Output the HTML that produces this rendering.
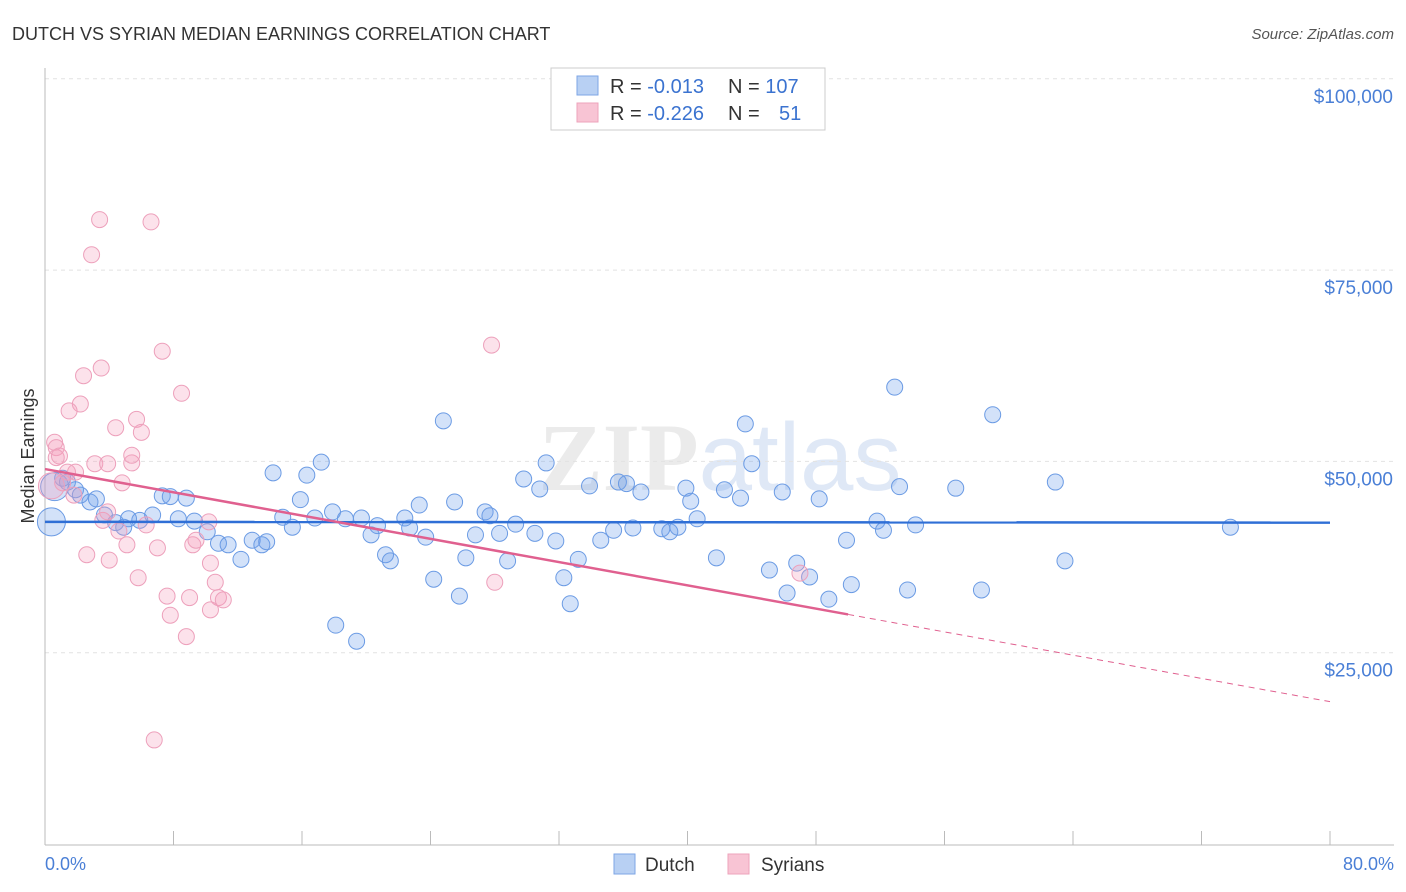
<!DOCTYPE html>
<html><head><meta charset="utf-8"><style>
body{margin:0;background:#fff;font-family:"Liberation Sans",sans-serif;}
svg{display:block}
</style></head><body>
<svg id="chart" width="1406" height="892">
<text x="12" y="40" font-size="18" fill="#333">DUTCH VS SYRIAN MEDIAN EARNINGS CORRELATION CHART</text>
<text x="1394" y="39" font-size="15" fill="#555" font-style="italic" text-anchor="end">Source: ZipAtlas.com</text>
<text x="720" y="490" font-size="96" fill="#ebebeb" text-anchor="middle" font-family="Liberation Serif" font-weight="bold">ZIP<tspan fill="#dfe8f6" font-family="Liberation Sans" font-weight="normal">atlas</tspan></text>
<g id="grid"></g>
<line x1="45" y1="68" x2="45" y2="845" stroke="#bbb"/>
<line x1="45" y1="845" x2="1394" y2="845" stroke="#bbb"/>
<g id="ticks"></g>
<text transform="translate(34,456) rotate(-90)" font-size="18" fill="#333" text-anchor="middle">Median Earnings</text>
<text x="45" y="870" font-size="18" fill="#4a7fd6">0.0%</text>
<text x="1394" y="870" font-size="18" fill="#4a7fd6" text-anchor="end">80.0%</text>
<g id="marks"></g>
<g>
<rect x="551" y="68" width="274" height="62" fill="#fff" stroke="#ccc"/>
<rect x="577" y="76" width="21" height="19" fill="#b8d0f3" stroke="#7ea6e6"/>
<rect x="577" y="103" width="21" height="19" fill="#f8c4d4" stroke="#eea3bb"/>
<text x="610" y="93" font-size="20" fill="#333">R = <tspan fill="#3b73d0">-0.013</tspan><tspan x="728">N = </tspan><tspan fill="#3b73d0">107</tspan></text>
<text x="610" y="120" font-size="20" fill="#333">R = <tspan fill="#3b73d0">-0.226</tspan><tspan x="728">N = </tspan><tspan fill="#3b73d0" x="779">51</tspan></text>
</g>
<g>
<rect x="614" y="854" width="21" height="20" fill="#b8d0f3" stroke="#7ea6e6"/>
<text x="645" y="871" font-size="19" fill="#333">Dutch</text></g>
<g>
<rect x="728" y="854" width="21" height="20" fill="#f8c4d4" stroke="#eea3bb"/>
<text x="761" y="871" font-size="19" fill="#333">Syrians</text></g>
</svg>
<script>
const dutchX=[7.3,7.8,8.8,8.3,9.3,10.1,10.8,11.4,12.2,12.9,13.5,13.8,14.2,14.8,15.4,15.9,16.3,16.8,17.2,17.9,18.1,18.7,19.4,19.7,20.3,20.7,21.2,21.5,22.4,22.7,23.3,23.7,24.2,24.8,25.5,25.8,26.2,26.8,27.4,27.7,28.3,28.8,29.3,29.8,30.5,30.8,31.2,31.8,32.3,32.7,33.2,33.9,34.6,35.4,35.7,36.2,36.6,37.1,38.4,38.9,39.4,39.9,40.2,40.6,41.8,42.3,43.3,43.6,44.0,45.1,45.9,46.2,46.8,47.6,48.2,48.8,49.9,50.2,51.8,52.2,52.9,53.2,53.7,54.2,56.7,58.3,59.0,62.9,63.5,73.8,0.4,0.6,1.1,1.4,1.9,2.2,2.8,3.2,3.7,4.4,4.9,5.9,6.7,5.2];
const dutchY=[45.5,45.4,45.2,42.5,42.2,40.8,39.3,39.1,37.2,39.7,39.1,39.5,48.5,42.7,41.4,45.0,48.2,42.6,49.9,43.4,28.6,42.5,26.5,42.6,40.4,41.6,37.8,37.0,42.6,41.3,44.3,40.1,34.6,55.3,44.7,32.4,37.4,40.4,43.4,42.9,40.6,37.0,41.8,47.7,40.6,46.4,49.8,39.6,34.8,31.4,37.2,46.8,39.7,41.0,47.3,47.1,41.3,46.0,41.2,40.8,41.4,46.5,44.8,42.5,37.4,46.3,45.2,54.9,49.7,35.8,46.0,32.8,36.7,34.9,45.1,32.0,39.7,33.9,42.2,41.0,59.7,46.7,33.2,41.7,46.5,33.2,56.1,47.3,37.0,41.4,42.1,46.7,47.8,47.3,46.3,45.6,44.7,45.1,43.0,42.0,41.4,42.3,43.0,42.5];
const syrX=[3.4,6.6,2.9,7.3,27.8,3.5,2.4,2.2,1.5,8.5,5.7,6.0,4.4,0.6,0.7,0.7,3.1,3.9,5.4,5.4,1.4,1.9,1.1,0.4,1.8,4.8,3.6,4.6,5.1,4.0,5.8,7.0,6.3,9.2,9.4,10.2,10.3,10.6,10.8,11.1,9.0,7.6,7.8,8.8,10.3,6.8,28.0,47.0,3.9,0.9,2.6];
const syrY=[81.6,81.3,77.0,64.4,65.2,62.2,61.2,57.5,56.6,58.9,55.5,53.8,54.4,52.5,51.8,50.5,49.7,49.7,49.8,50.8,48.6,48.6,47.2,46.8,45.6,47.2,42.3,40.9,39.1,37.1,34.8,38.7,41.7,39.1,39.7,42.1,36.7,34.2,32.2,31.9,32.2,32.4,29.9,27.1,30.6,13.6,34.2,35.4,43.4,50.7,37.8];
const bigDutch=[90,91];const bigSyr=[23];
const dutchTrend=[42.1,42.0];
const syrTrend=[49.0,18.6];
const yTicks=[25,50,75,100];
const yTickLabels=["$25,000","$50,000","$75,000","$100,000"];
const xTicks=[0,8,16,24,32,40,48,56,64,72,80];
const NS="http://www.w3.org/2000/svg";
const sx=v=>45+v/80*1285;
const sy=v=>844-v/25*191.3;
function mk(p,t,a){const e=document.createElementNS(NS,t);for(const k in a)e.setAttribute(k,a[k]);p.appendChild(e);return e;}
const grid=document.getElementById('grid'),ticks=document.getElementById('ticks'),marks=document.getElementById('marks');
yTicks.forEach((v,i)=>{
 const l=mk(grid,'line',{x1:45,x2:1394,y1:sy(v),y2:sy(v),stroke:'#e2e2e2','stroke-dasharray':'4 4'});
 
 
 const t=mk(grid,'text',{x:1393,y:sy(v)+24,'font-size':19,fill:'#4a7fd6','text-anchor':'end'});
 t.textContent=yTickLabels[i];
 
 
});
xTicks.forEach(v=>{
 const l=mk(ticks,'line',{x1:sx(v),x2:sx(v),y1:831,y2:845,stroke:'#bbb'});
 
 
});
dutchX.forEach((x,i)=>{
 const c=mk(marks,'circle',{cx:sx(x),cy:sy(dutchY[i]),r:bigDutch.includes(i)?14:8,fill:'rgba(110,160,235,0.3)',stroke:'#6b9be4','stroke-width':1});
 
 
});
syrX.forEach((x,i)=>{
 const c=mk(marks,'circle',{cx:sx(x),cy:sy(syrY[i]),r:bigSyr.includes(i)?13:8,fill:'rgba(245,160,190,0.3)',stroke:'#eda0bb','stroke-width':1});
 
 
});
const bl=mk(marks,'line',{x1:sx(0),y1:sy(dutchTrend[0]),x2:sx(80),y2:sy(dutchTrend[1]),stroke:'#2f6fd6','stroke-width':2.5});


const ps=v=>syrTrend[0]+(syrTrend[1]-syrTrend[0])*v/80;
const pl=mk(marks,'line',{x1:sx(0),y1:sy(ps(0)),x2:sx(50),y2:sy(ps(50)),stroke:'#e0608f','stroke-width':2.5});


const pd=mk(marks,'line',{x1:sx(50),y1:sy(ps(50)),x2:sx(80),y2:sy(ps(80)),stroke:'#e0608f','stroke-width':1,'stroke-dasharray':'6 5'});


</script>
</body></html>
